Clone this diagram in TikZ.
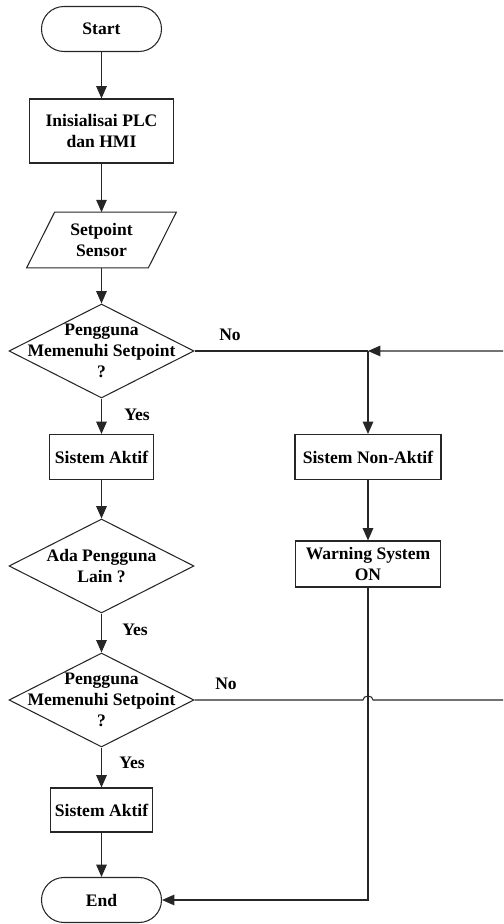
\documentclass[tikz,border=0pt]{standalone}
\usepackage{fontspec}
\setmainfont{Liberation Serif}
\usepackage{tikz}
\usetikzlibrary{shapes.geometric,arrows.meta}

\begin{document}
\begin{tikzpicture}[
	font=\fontsize{10}{12}\selectfont\bfseries,
	line/.style={semithick,draw=black!85},
	flow/.style={line,->,>={Triangle[length=7pt,width=6pt]}},
	terminal/.style={line,rounded corners=0.45cm,minimum width=2.4cm,minimum height=0.9cm},
	process/.style={line,align=center,minimum height=0.9cm,inner sep=2pt},
	io/.style={align=center,minimum width=2.42cm,minimum height=1.1cm,inner sep=0pt},
	decision/.style={line,diamond,minimum width=3.7cm,minimum height=1.88cm,inner sep=0pt},
	dtext/.style={align=center,inner sep=0pt}]
	\path[use as bounding box,clip] (0,0) rectangle (10.06,18.48);

	%main column
	\node[terminal] (start) at (2.03,17.90) {Start};
	\node[process,minimum width=2.88cm,minimum height=1.28cm] (init) at (2.03,15.86) {Inisialisai PLC\\dan HMI};
	\node[io] (sens) at (2.03,13.68) {Setpoint\\Sensor};
	\draw[line] ([xshift=-0.28cm]sens.south west) -- ([xshift=0.28cm]sens.north west) -- ([xshift=0.28cm]sens.north east) -- ([xshift=-0.28cm]sens.south east) -- cycle;	%input box
	\node[decision,label={[dtext]center:Pengguna\\Memenuhi Setpoint\\?}] (cek1) at (2.03,11.46) {};
	\node[process,minimum width=2.08cm] (aktif1) at (2.03,9.34) {Sistem Aktif};
	\node[decision,label={[dtext]center:Ada Pengguna\\Lain ?}] (lain) at (2.03,7.16) {};
	\node[decision,label={[dtext]center:Pengguna\\Memenuhi Setpoint\\?}] (cek2) at (2.03,4.48) {};
	\node[process,minimum width=2.04cm,minimum height=0.88cm] (aktif2) at (2.03,2.28) {Sistem Aktif};
	\node[terminal] (end) at (2.03,0.48) {End};

	%right column
	\coordinate (jn) at (7.36,11.46);		%junction
	\coordinate (r1) at (10.3,11.46);		%return, upper
	\coordinate (r2) at (10.3,4.48);		%return, lower
	\node[process,minimum width=2.92cm] (non) at (7.36,9.34) {Sistem Non-Aktif};
	\node[process,minimum width=2.9cm,minimum height=0.92cm] (warn) at (7.36,7.20) {Warning System\\ON};

	%labels
	\node (yes1) at (2.74,10.18) {Yes};
	\node (no1)  at (4.60,11.78) {No};
	\node (yes2) at (2.70,5.88)  {Yes};
	\node (no2)  at (4.52,4.80)  {No};
	\node (yes3) at (2.64,3.22)  {Yes};

	%connectors
	\draw[flow] (start) -- (init);
	\draw[flow] (init) -- (sens);
	\draw[flow] (sens) -- (cek1);
	\draw[flow] (cek1) -- (aktif1);
	\draw[flow] (aktif1) -- (lain);
	\draw[flow] (lain) -- (cek2);
	\draw[flow] (cek2) -- (aktif2);
	\draw[flow] (aktif2) -- (end);
	\draw[line] (cek1.east) -- (jn);
	\draw[flow] (jn) -- (non);
	\draw[flow] (non) -- (warn);
	\draw[flow] (warn.south) |- (end.east);
	\draw[flow] (cek2.east) -- (7.26,4.48) arc[start angle=180,end angle=0,x radius=0.1,y radius=0.08] -- (r2) -- (r1) -- (jn);	%loop back
\end{tikzpicture}
\end{document}
